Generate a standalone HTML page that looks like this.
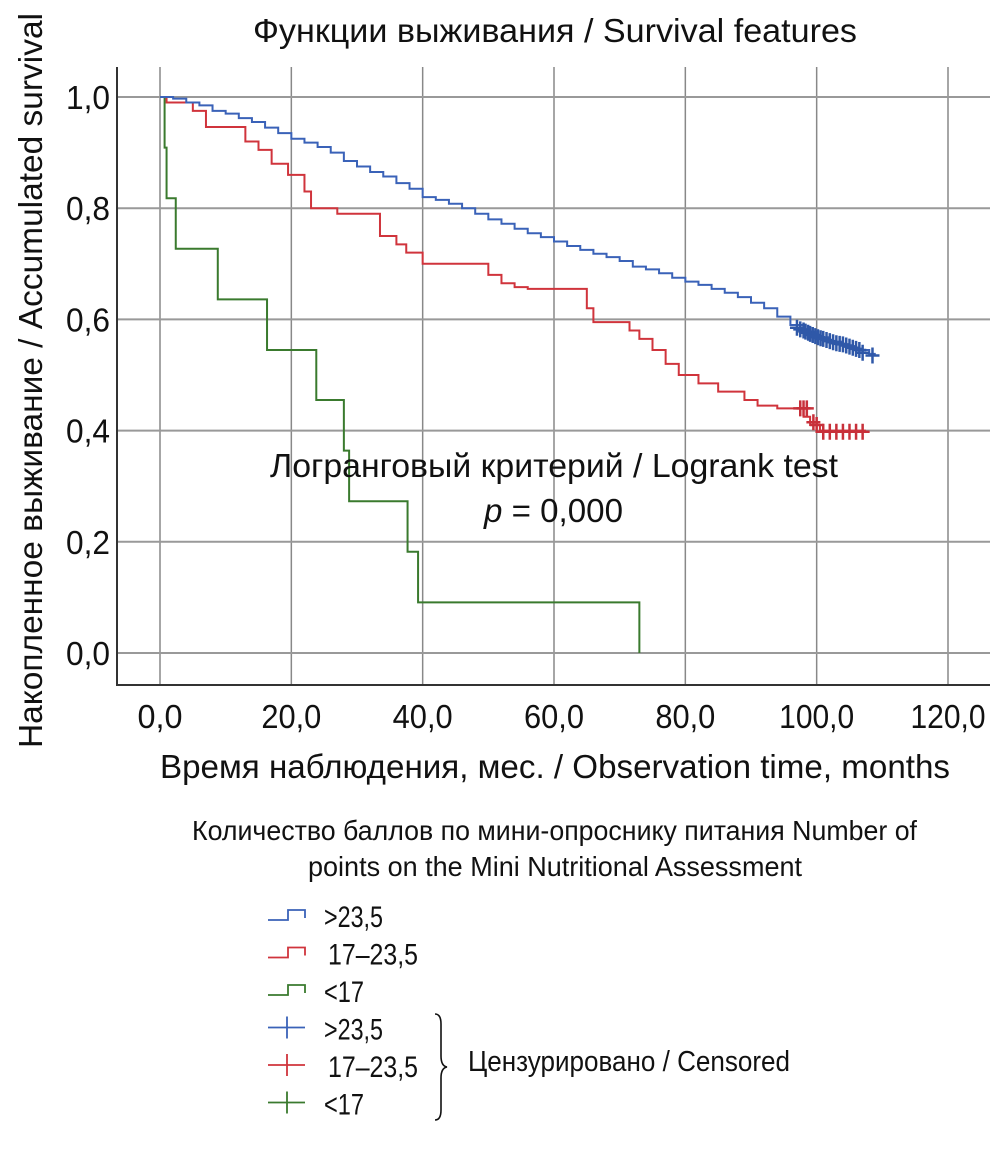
<!DOCTYPE html>
<html><head><meta charset="utf-8"><style>
html,body{margin:0;padding:0;background:#fff}
svg text{font-family:"Liberation Sans Narrow","Liberation Sans",sans-serif;fill:#111}
</style></head><body>
<svg id="chart" width="992" height="1150" viewBox="0 0 992 1150" xmlns="http://www.w3.org/2000/svg">
<text x="253" y="42" font-size="33" textLength="604" lengthAdjust="spacingAndGlyphs">Функции выживания / Survival features</text>
<text transform="translate(42,748) rotate(-90)" font-size="33" textLength="735" lengthAdjust="spacingAndGlyphs">Накопленное выживание / Accumulated survival</text>
<text x="160" y="778" font-size="33" textLength="790" lengthAdjust="spacingAndGlyphs">Время наблюдения, мес. / Observation time, months</text>
<g id="grid"></g>
<g id="axes"></g>
<g id="series"></g>
<text x="270" y="477" font-size="33" textLength="568" lengthAdjust="spacingAndGlyphs">Логранговый критерий / Logrank test</text>
<text x="484" y="522" font-size="33" textLength="139" lengthAdjust="spacingAndGlyphs"><tspan font-style="italic">p</tspan> = 0,000</text>
<text x="192" y="840" font-size="28" textLength="725" lengthAdjust="spacingAndGlyphs">Количество баллов по мини-опроснику питания Number of</text>
<text x="308" y="876" font-size="28" textLength="494" lengthAdjust="spacingAndGlyphs">points on the Mini Nutritional Assessment</text>
<g id="legend"></g>
<path d="M435,1014 q6,0 6,10 v32 q0,10 6,11 q-6,1 -6,11 v32 q0,10 -6,10" fill="none" stroke="#111" stroke-width="1.6"/>
<text x="468" y="1071" font-size="29" textLength="322" lengthAdjust="spacingAndGlyphs">Цензурировано / Censored</text>
</svg>
<script>
const xTicks=[0,20,40,60,80,100,120];
const xTickLabels=["0,0","20,0","40,0","60,0","80,0","100,0","120,0"];
const yTicks=[0,0.2,0.4,0.6,0.8,1.0];
const yTickLabels=["0,0","0,2","0,4","0,6","0,8","1,0"];
const blueT=[0,2,4,6,8,10,12,14,16,18,20,22,24,26,28,30,32,34,36,38,40,42,44,46,48,50,52,54,56,58,60,62,64,66,68,70,72,74,76,78,80,82,84,86,88,90,92,94,96,98,100,102,104,106,108];
const blueS=[1,0.997,0.99,0.985,0.975,0.97,0.962,0.955,0.945,0.935,0.925,0.918,0.91,0.9,0.885,0.875,0.865,0.857,0.845,0.835,0.82,0.815,0.808,0.8,0.79,0.78,0.772,0.763,0.755,0.748,0.74,0.732,0.725,0.718,0.712,0.705,0.695,0.69,0.683,0.675,0.668,0.662,0.655,0.648,0.64,0.63,0.62,0.605,0.59,0.578,0.568,0.56,0.552,0.545,0.538];
const redT=[0,1,5,7,13,15,17,19.5,22,23,27,33.5,36,37.5,40,50,52,54,56,65,66,71.5,73,75,77,79,82,85,89,91,94,98,99,100.5];
const redS=[1,0.99,0.975,0.946,0.92,0.905,0.88,0.86,0.83,0.80,0.79,0.75,0.735,0.72,0.70,0.68,0.665,0.658,0.655,0.62,0.595,0.58,0.565,0.545,0.52,0.50,0.485,0.47,0.455,0.445,0.44,0.425,0.41,0.40];
const greenT=[0,0.7,1,2.4,8.8,16.3,23.8,28,28.8,37.7,39.3,73];
const greenS=[1,0.909,0.818,0.727,0.636,0.545,0.455,0.364,0.273,0.182,0.091,0];
const blueCensT=[97,97.5,98,98.3,98.7,99,99.4,99.8,100.2,100.6,101,101.5,102,102.5,103,103.5,104,104.5,105,105.5,106,106.5,107,108.5];
const blueCensS=[0.585,0.582,0.58,0.578,0.576,0.574,0.572,0.57,0.568,0.566,0.565,0.563,0.561,0.559,0.557,0.556,0.555,0.553,0.551,0.549,0.547,0.545,0.54,0.535];
const redCensT=[97.5,98,98.5,99.5,100,101,102,103,104,105,106,107];
const redCensS=[0.44,0.44,0.44,0.415,0.41,0.398,0.398,0.398,0.398,0.398,0.398,0.398];
const X=v=>160+v*(788/120);
const Y=v=>653-v*556;
const NS="http://www.w3.org/2000/svg";
function mk(tag,attrs,parent){const e=document.createElementNS(NS,tag);for(const k in attrs)e.setAttribute(k,attrs[k]);parent.appendChild(e);return e;}
const grid=document.getElementById('grid'),axes=document.getElementById('axes'),ser=document.getElementById('series'),leg=document.getElementById('legend');
xTicks.forEach((t,i)=>{
 const l=mk('line',{x1:X(t),x2:X(t),y1:67,y2:685,stroke:'#888','stroke-width':1.5},grid);
 
 
 const lab=xTickLabels[i];
 const tx=mk('text',{x:X(t),y:728,'font-size':33,'text-anchor':'middle',textLength:lab.length*15,lengthAdjust:'spacingAndGlyphs'},axes);
 tx.textContent=lab;
 
 
});
yTicks.forEach((t,i)=>{
 const l=mk('line',{x1:117,x2:990,y1:Y(t),y2:Y(t),stroke:'#999','stroke-width':2},grid);
 
 
 const tx=mk('text',{x:66,y:Y(t)+12,'font-size':33,textLength:44,lengthAdjust:'spacingAndGlyphs'},axes);
 tx.textContent=yTickLabels[i];
 
 
});
const ya=mk('line',{x1:117,x2:117,y1:67,y2:686,stroke:'#333','stroke-width':2},axes);


const xa=mk('line',{x1:116,x2:990,y1:685,y2:685,stroke:'#333','stroke-width':2},axes);


function stepPath(T,S){let d='M'+X(T[0])+','+Y(S[0]);for(let i=1;i<T.length;i++){d+=' H'+X(T[i])+' V'+Y(S[i]);}return d;}
const gp=mk('path',{d:stepPath(greenT,greenS),fill:'none',stroke:'#3a7a2e','stroke-width':2},ser);


const rp=mk('path',{d:stepPath(redT,redS)+' H'+X(107.5),fill:'none',stroke:'#d0343c','stroke-width':2},ser);


const bp=mk('path',{d:stepPath(blueT,blueS)+' H'+X(109),fill:'none',stroke:'#3a62b8','stroke-width':2},ser);


function cross(x,y,c,parent,n){const g=mk('path',{d:`M${x-7},${y} H${x+7} M${x},${y-8} V${y+8}`,stroke:c,'stroke-width':2.5,fill:'none'},parent);}
blueCensT.forEach((t,i)=>cross(X(t),Y(blueCensS[i]),'#2f58a8',ser,'censored-mark-gt23'));
redCensT.forEach((t,i)=>cross(X(t),Y(redCensS[i]),'#c8303a',ser,'censored-mark-17-23'));
const legItems=[['#3a62b8','>23,5','step',59],['#d0343c','17–23,5','step',90],['#3a7a2e','<17','step',40],['#3a62b8','>23,5','cross',59],['#d0343c','17–23,5','cross',90],['#3a7a2e','<17','cross',40]];
legItems.forEach((it,i)=>{
 const y=915+i*37.5;
 let d=it[2]==='step'?`M268,${y+5} H288 V${y-5} H305 V${y+3}`:`M268,${y} H305 M287,${y-11} V${y+11}`;
 const p=mk('path',{d:d,stroke:it[0],'stroke-width':1.8,fill:'none'},leg);
 
 
 const tx=mk('text',{x:it[1][0]==='1'?328:324,y:y+12,'font-size':30,textLength:it[3],lengthAdjust:'spacingAndGlyphs'},leg);
 tx.textContent=it[1];
 
 
});
</script>
</body></html>
